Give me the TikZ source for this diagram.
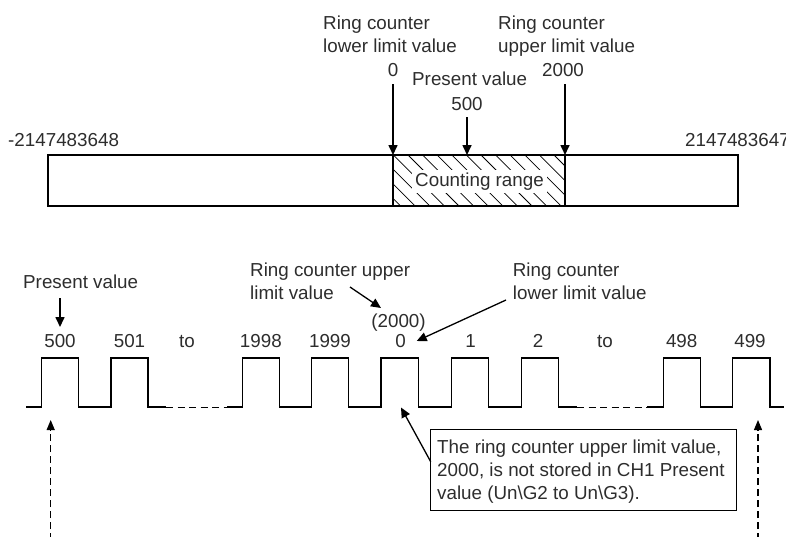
\documentclass[tikz,border=0pt]{standalone}
\usepackage{fontspec}
\setmainfont{Liberation Sans}
\usetikzlibrary{arrows.meta}
\definecolor{txt}{RGB}{45,45,45}
\begin{document}
\begin{tikzpicture}[x=1pt,y=-1pt,
  lbl/.style={inner sep=0pt, text=txt, font=\fontsize{18.8}{23}\selectfont},
  ln/.style={line width=1.3pt, black, line join=miter},
  dashln/.style={line width=0.9pt, black, dash pattern=on 7pt off 4.5pt},
  arr/.style={line width=1.6pt, -{Triangle[length=10pt,width=9pt]}},
  darr/.style={line width=1.2pt, dash pattern=on 7pt off 4pt, -{Triangle[length=10pt,width=8pt]}},
  hatch/.style={line width=0.75pt, black},
]
\useasboundingbox (0,0) rectangle (786,536);

% ---------- top bar ----------
\begin{scope}
  \clip (393,155) rectangle (565,206);
  \foreach \x in {335,349.6,...,580} \draw[hatch] (\x,155) -- (\x+51,206);
\end{scope}
\node[lbl, fill=white, inner xsep=3pt, inner ysep=2.5pt, anchor=base] (cr) at (479.5,186.5) {Counting range};
\draw[ln] (48,155) rectangle (738,206);
\draw[ln] (393,155) -- (393,206);
\draw[ln] (565,155) -- (565,206);

\node[lbl, anchor=base west] (minv) at (8,146.5) {-2147483648};
\node[lbl, anchor=base west] (maxv) at (685,146.5) {2147483647};

\node[lbl, anchor=base west] (lo1) at (323,29.5) {Ring counter};
\node[lbl, anchor=base west] (lo2) at (323,52.5) {lower limit value};
\node[lbl, anchor=base] (lo3) at (393,76.5) {0};
\node[lbl, anchor=base west] (up1) at (498,29.5) {Ring counter};
\node[lbl, anchor=base west] (up2) at (498,52.5) {upper limit value};
\node[lbl, anchor=base] (up3) at (563,76.5) {2000};
\node[lbl, anchor=base west] (pv1) at (412,85) {Present value};
\node[lbl, anchor=base] (pv2) at (467,110) {500};

\coordinate (loS) at (393,84);  \coordinate (loE) at (393,155);
\coordinate (upS) at (565,84);  \coordinate (upE) at (565,155);
\coordinate (pvS) at (467,117); \coordinate (pvE) at (467,155);
\draw[arr] (loS) -- (loE);
\draw[arr] (upS) -- (upE);
\draw[arr] (pvS) -- (pvE);

% ---------- pulse train ----------
\draw[ln] (26,407) -- (41.7,407) -- (41.7,358) -- (78.7,358) -- (78.7,407) -- (111,407) -- (111,358) -- (148,358) -- (148,407) -- (166,407);
\draw[dashln] (166,407) -- (227,407);
\draw[ln] (227,407) -- (242.3,407) -- (242.3,358) -- (279.3,358) -- (279.3,407) -- (311.7,407) -- (311.7,358) -- (348.7,358) -- (348.7,407) -- (381,407) -- (381,358) -- (418.3,358) -- (418.3,407) -- (451.7,407) -- (451.7,358) -- (488.3,358) -- (488.3,407) -- (521.7,407) -- (521.7,358) -- (558.3,358) -- (558.3,407) -- (577,407);
\draw[dashln] (577,407) -- (647,407);
\draw[ln] (647,407) -- (663.3,407) -- (663.3,358) -- (700.7,358) -- (700.7,407) -- (732.7,407) -- (732.7,358) -- (770,358) -- (770,407) -- (784,407);

\foreach \n/\x/\t in {p1/60/500, p2/129.5/501, p3/187/to, p4/260.8/1998, p5/330/1999, p6/400.7/0, p7/470.7/1, p8/538/2, p9/605/to, p10/681.7/498, p11/750/499}
  \node[lbl, anchor=base] (\n) at (\x,347) {\t};

\node[lbl, anchor=base west] (pvl) at (23,288) {Present value};
\node[lbl, anchor=base west] (ul1) at (250,276.5) {Ring counter upper};
\node[lbl, anchor=base west] (ul2) at (250,299.5) {limit value};
\node[lbl, anchor=base] (ul3) at (398.5,327.5) {(2000)};
\node[lbl, anchor=base west] (ll1) at (512.7,276.5) {Ring counter};
\node[lbl, anchor=base west] (ll2) at (512.7,299.5) {lower limit value};

\coordinate (a1S) at (60,298);     \coordinate (a1E) at (60,327);
\coordinate (a2S) at (350,287);    \coordinate (a2E) at (381,308);
\coordinate (a3S) at (506,300);    \coordinate (a3E) at (416.7,341);
\draw[arr] (a1S) -- (a1E);
\draw[arr, line width=1.3pt] (a2S) -- (a2E);
\draw[arr, line width=1.3pt] (a3S) -- (a3E);

% ---------- callout ----------
\node[draw=black, line width=1.2pt, minimum width=306pt, minimum height=81pt, inner sep=0pt, anchor=north west] (note) at (430,429) {};
\node[lbl, anchor=base west] (n1) at (437,453) {The ring counter upper limit value,};
\node[lbl, anchor=base west] (n2) at (437,476.5) {2000, is not stored in CH1 Present};
\node[lbl, anchor=base west] (n3) at (437,499.5) {value (Un\textbackslash G2 to Un\textbackslash G3).};
\coordinate (cS) at (430.7,461.7); \coordinate (cE) at (401,407.5);
\draw[arr, line width=1.3pt] (cS) -- (cE);

% ---------- dashed arrows ----------
\coordinate (dLS) at (50.7,540); \coordinate (dLE) at (50.7,420);
\coordinate (dRS) at (758,540);  \coordinate (dRE) at (758,420);
\draw[darr] (dLS) -- (dLE);
\draw[darr] (dRS) -- (dRE);
\end{tikzpicture}
\end{document}
